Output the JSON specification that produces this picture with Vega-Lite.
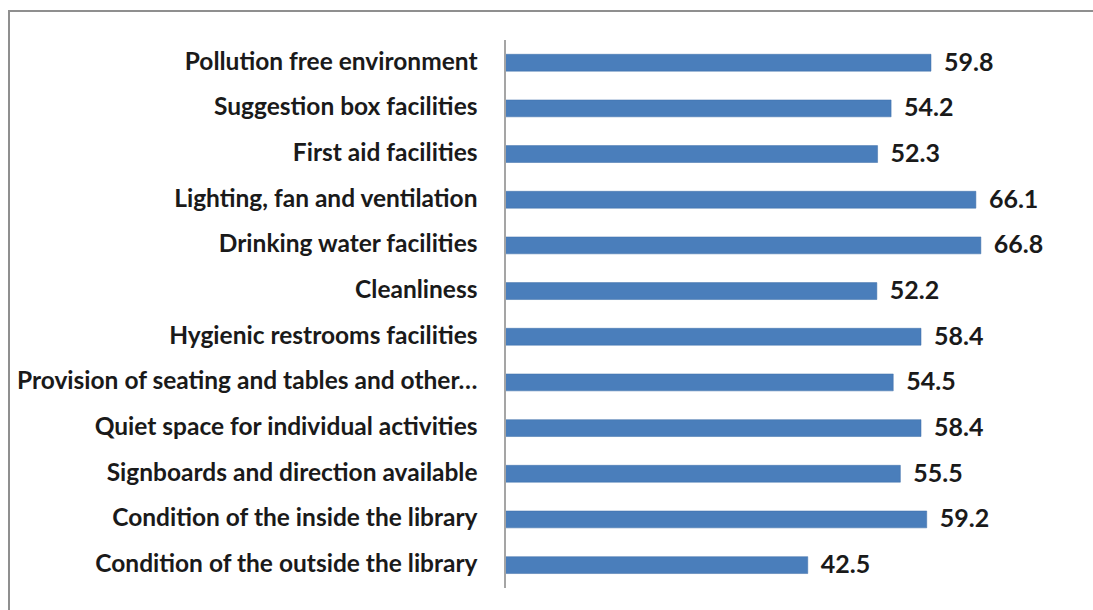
{
  "$schema": "https://vega.github.io/schema/vega-lite/v6.json",
  "autosize": {"type": "none"},
  "padding": {"left": 9, "top": 11, "right": -10, "bottom": -10},
  "width": 1094,
  "height": 609,
  "background": "white",
  "config": {
    "view": {"stroke": "#8f8f8f", "strokeWidth": 2},
    "font": "Lato"
  },
  "data": {
    "values": [
      {"item": "Pollution free environment", "pct": 59.8},
      {"item": "Suggestion box facilities", "pct": 54.2},
      {"item": "First aid facilities", "pct": 52.3},
      {"item": "Lighting, fan and ventilation", "pct": 66.1},
      {"item": "Drinking water facilities", "pct": 66.8},
      {"item": "Cleanliness", "pct": 52.2},
      {"item": "Hygienic restrooms facilities", "pct": 58.4},
      {"item": "Provision of seating and tables and other…", "pct": 54.5},
      {"item": "Quiet space for individual activities", "pct": 58.4},
      {"item": "Signboards and direction available", "pct": 55.5},
      {"item": "Condition of the inside the library", "pct": 59.2},
      {"item": "Condition of the outside the library", "pct": 42.5}
    ]
  },
  "encoding": {
    "y": {
      "field": "item",
      "type": "nominal",
      "sort": null,
      "scale": {"range": [0, 597], "paddingInner": 0, "paddingOuter": 0.536, "align": 0.59},
      "axis": {
        "title": null,
        "domain": false,
        "ticks": false,
        "labelPadding": 0,
        "offset": -468,
        "labelLimit": 0,
        "labelFont": "Lato",
        "labelFontSize": 24.5,
        "labelFontWeight": "bold",
        "labelColor": "#1a1a1a"
      }
    }
  },
  "layer": [
    {
      "mark": {"type": "bar", "height": {"band": 0.37}, "color": "#4A7EBB", "stroke": "#3F6EA9", "strokeWidth": 0.5},
      "encoding": {
        "x": {
          "field": "pct",
          "type": "quantitative",
          "scale": {"domain": [-69.62, 82.54], "range": [0, 1084], "nice": false, "zero": false},
          "axis": null
        }
      }
    },
    {
      "mark": {"type": "text", "align": "left", "baseline": "middle", "dx": 13, "font": "Lato", "fontSize": 25, "fontWeight": "bold", "color": "#1a1a1a"},
      "encoding": {
        "x": {"field": "pct", "type": "quantitative"},
        "text": {"field": "pct", "type": "quantitative", "format": ".1f"}
      }
    },
    {
      "mark": {"type": "rule", "color": "#a6a6a6", "strokeWidth": 1.2},
      "encoding": {
        "x": {"datum": 0},
        "y": {"datum": "Pollution free environment", "bandPosition": 0},
        "y2": {"datum": "Condition of the outside the library", "bandPosition": 1}
      }
    }
  ]
}
